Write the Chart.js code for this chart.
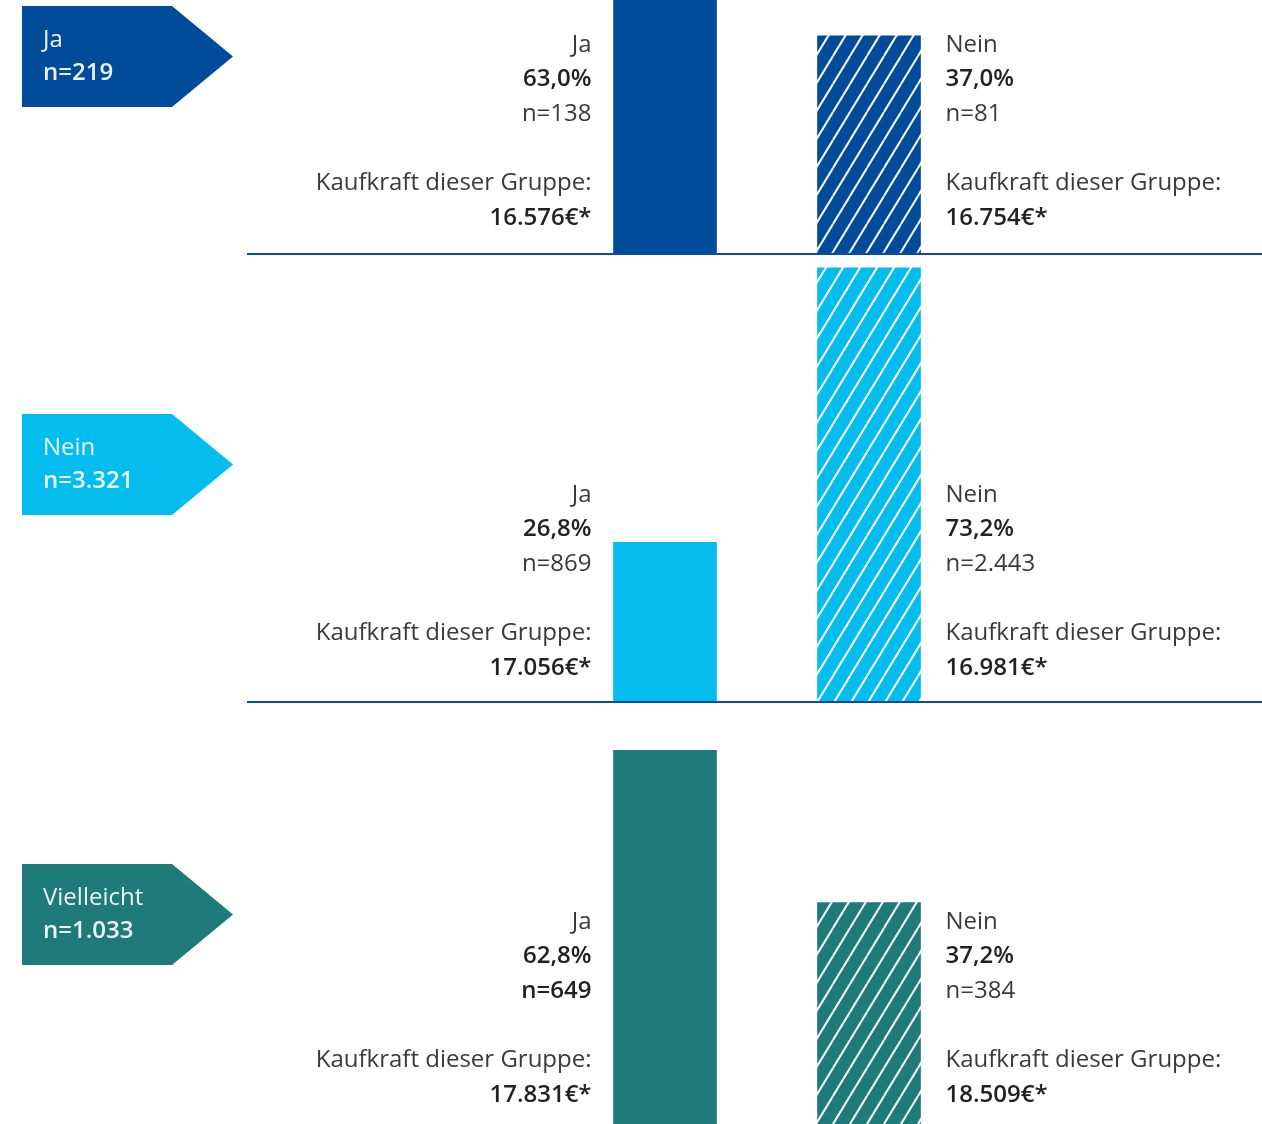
<!DOCTYPE html>
<html>
<head>
<meta charset="utf-8">
<script src="https://cdn.jsdelivr.net/npm/chart.js@4/dist/chart.umd.min.js"></script>
<style>
  html, body { margin: 0; padding: 0; background: #fff; overflow: hidden; }
  body { width: 1262px; height: 1124px; position: relative; }
  canvas { position: absolute; left: 0; }
</style>
</head>
<body>
<canvas id="panel0"></canvas>
<canvas id="panel1"></canvas>
<canvas id="panel2"></canvas>
<script>
// Data
const groups = ['Ja', 'Nein', 'Vielleicht'];
const groupN = ['219', '3.321', '1.033'];
const answers = ['Ja', 'Nein'];
const shares = [[63.0, 37.0], [26.8, 73.2], [62.8, 37.2]];
const counts = [['138', '81'], ['869', '2.443'], ['649', '384']];
const kaufkraft = [['16.576€*', '16.754€*'], ['17.056€*', '16.981€*'], ['17.831€*', '18.509€*']];
const boldCount = [[false, false], [false, false], [true, false]];
const colors = ['#004c9b', '#05bcee', '#1f7a7a'];

// Layout of each panel (canvas top, canvas height, bottom padding, y max, text top offset)
const panels = [
    { top: 0,   height: 260, padBottom: 7, yMax: 43.1, textTop: 45 },
    { top: 256, height: 450, padBottom: 5, yMax: 75.2, textTop: 239 },
    { top: 704, height: 422, padBottom: 2, yMax: 70.6, textTop: 218 }
];

const FONT = '"Open Sans", "Noto Sans", sans-serif';

function fmtPct(v) {
    return v.toFixed(1).replace('.', ',') + '%';
}

// diagonal white hatch on the group colour
function hatch(color) {
    const w = 17, h = 28;
    const c = document.createElement('canvas');
    c.width = w; c.height = h;
    const ctx = c.getContext('2d');
    ctx.fillStyle = color;
    ctx.fillRect(0, 0, w, h);
    ctx.strokeStyle = '#fff';
    ctx.lineWidth = 2;
    for (let x0 = -w; x0 <= w; x0 += w) {
        ctx.beginPath();
        ctx.moveTo(x0, h);
        ctx.lineTo(x0 + w, 0);
        ctx.stroke();
    }
    return c.getContext('2d').createPattern(c, 'repeat');
}

const panelDecor = {
    id: 'panelDecor',
    afterDatasetsDraw(chart) {
        const ctx = chart.ctx;
        const i = chart.options.panelIndex;
        const p = panels[i];
        const yBase = chart.scales.y.getPixelForValue(0);

        // separator line
        ctx.save();
        ctx.fillStyle = '#0a4f9e';
        ctx.fillRect(247, yBase, 1262 - 247, 2);

        // tag on the left
        const tagTop = { 0: 6, 1: 158, 2: 160 }[i];
        ctx.fillStyle = colors[i];
        ctx.beginPath();
        ctx.moveTo(22, tagTop);
        ctx.lineTo(172, tagTop);
        ctx.lineTo(233, tagTop + 50.5);
        ctx.lineTo(172, tagTop + 101);
        ctx.lineTo(22, tagTop + 101);
        ctx.closePath();
        ctx.fill();
        ctx.fillStyle = 'rgba(255,255,255,0.92)';
        ctx.textBaseline = 'middle';
        ctx.textAlign = 'left';
        ctx.font = '400 24px ' + FONT;
        ctx.fillText(groups[i], 43, tagTop + 34);
        ctx.font = '600 24px ' + FONT;
        ctx.fillText('n=' + groupN[i], 43, tagTop + 67);

        // labels next to the bars
        const meta = chart.getDatasetMeta(0);
        const rows = [0, 34.5, 69, 138.5, 173];
        meta.data.forEach((bar, j) => {
            const half = bar.width / 2;
            const left = j === 0;
            const x = left ? bar.x - half - 22 : bar.x + half + 25;
            ctx.textAlign = left ? 'right' : 'left';
            const y0 = p.textTop;
            const lines = [
                [answers[j], 400, '#3a3a3a'],
                [fmtPct(shares[i][j]), 600, '#222'],
                ['n=' + counts[i][j], boldCount[i][j] ? 600 : 400, boldCount[i][j] ? '#222' : '#3a3a3a'],
                ['Kaufkraft dieser Gruppe:', 400, '#3a3a3a'],
                [kaufkraft[i][j], 600, '#222']
            ];
            lines.forEach((l, k) => {
                ctx.font = l[1] + ' 24px ' + FONT;
                ctx.fillStyle = l[2];
                ctx.fillText(l[0], x, y0 + rows[k]);
            });
        });
        ctx.restore();
    }
};

function makePanel(i) {
    const p = panels[i];
    const canvas = document.getElementById('panel' + i);
    canvas.width = 1262;
    canvas.height = p.height;
    canvas.style.top = p.top + 'px';
    new Chart(canvas, {
        type: 'bar',
        data: {
            labels: answers,
            datasets: [{
                data: shares[i],
                backgroundColor: [colors[i], hatch(colors[i])],
                borderWidth: 0,
                barThickness: 103
            }]
        },
        options: {
            panelIndex: i,
            responsive: false,
            animation: false,
            layout: { padding: { left: 563, right: 291, top: 0, bottom: p.padBottom } },
            scales: {
                x: { display: false },
                y: { display: false, min: 0, max: p.yMax }
            },
            plugins: {
                legend: { display: false },
                tooltip: { enabled: false }
            }
        },
        plugins: [panelDecor]
    });
}

panels.forEach((p, i) => makePanel(i));
</script>
</body>
</html>
